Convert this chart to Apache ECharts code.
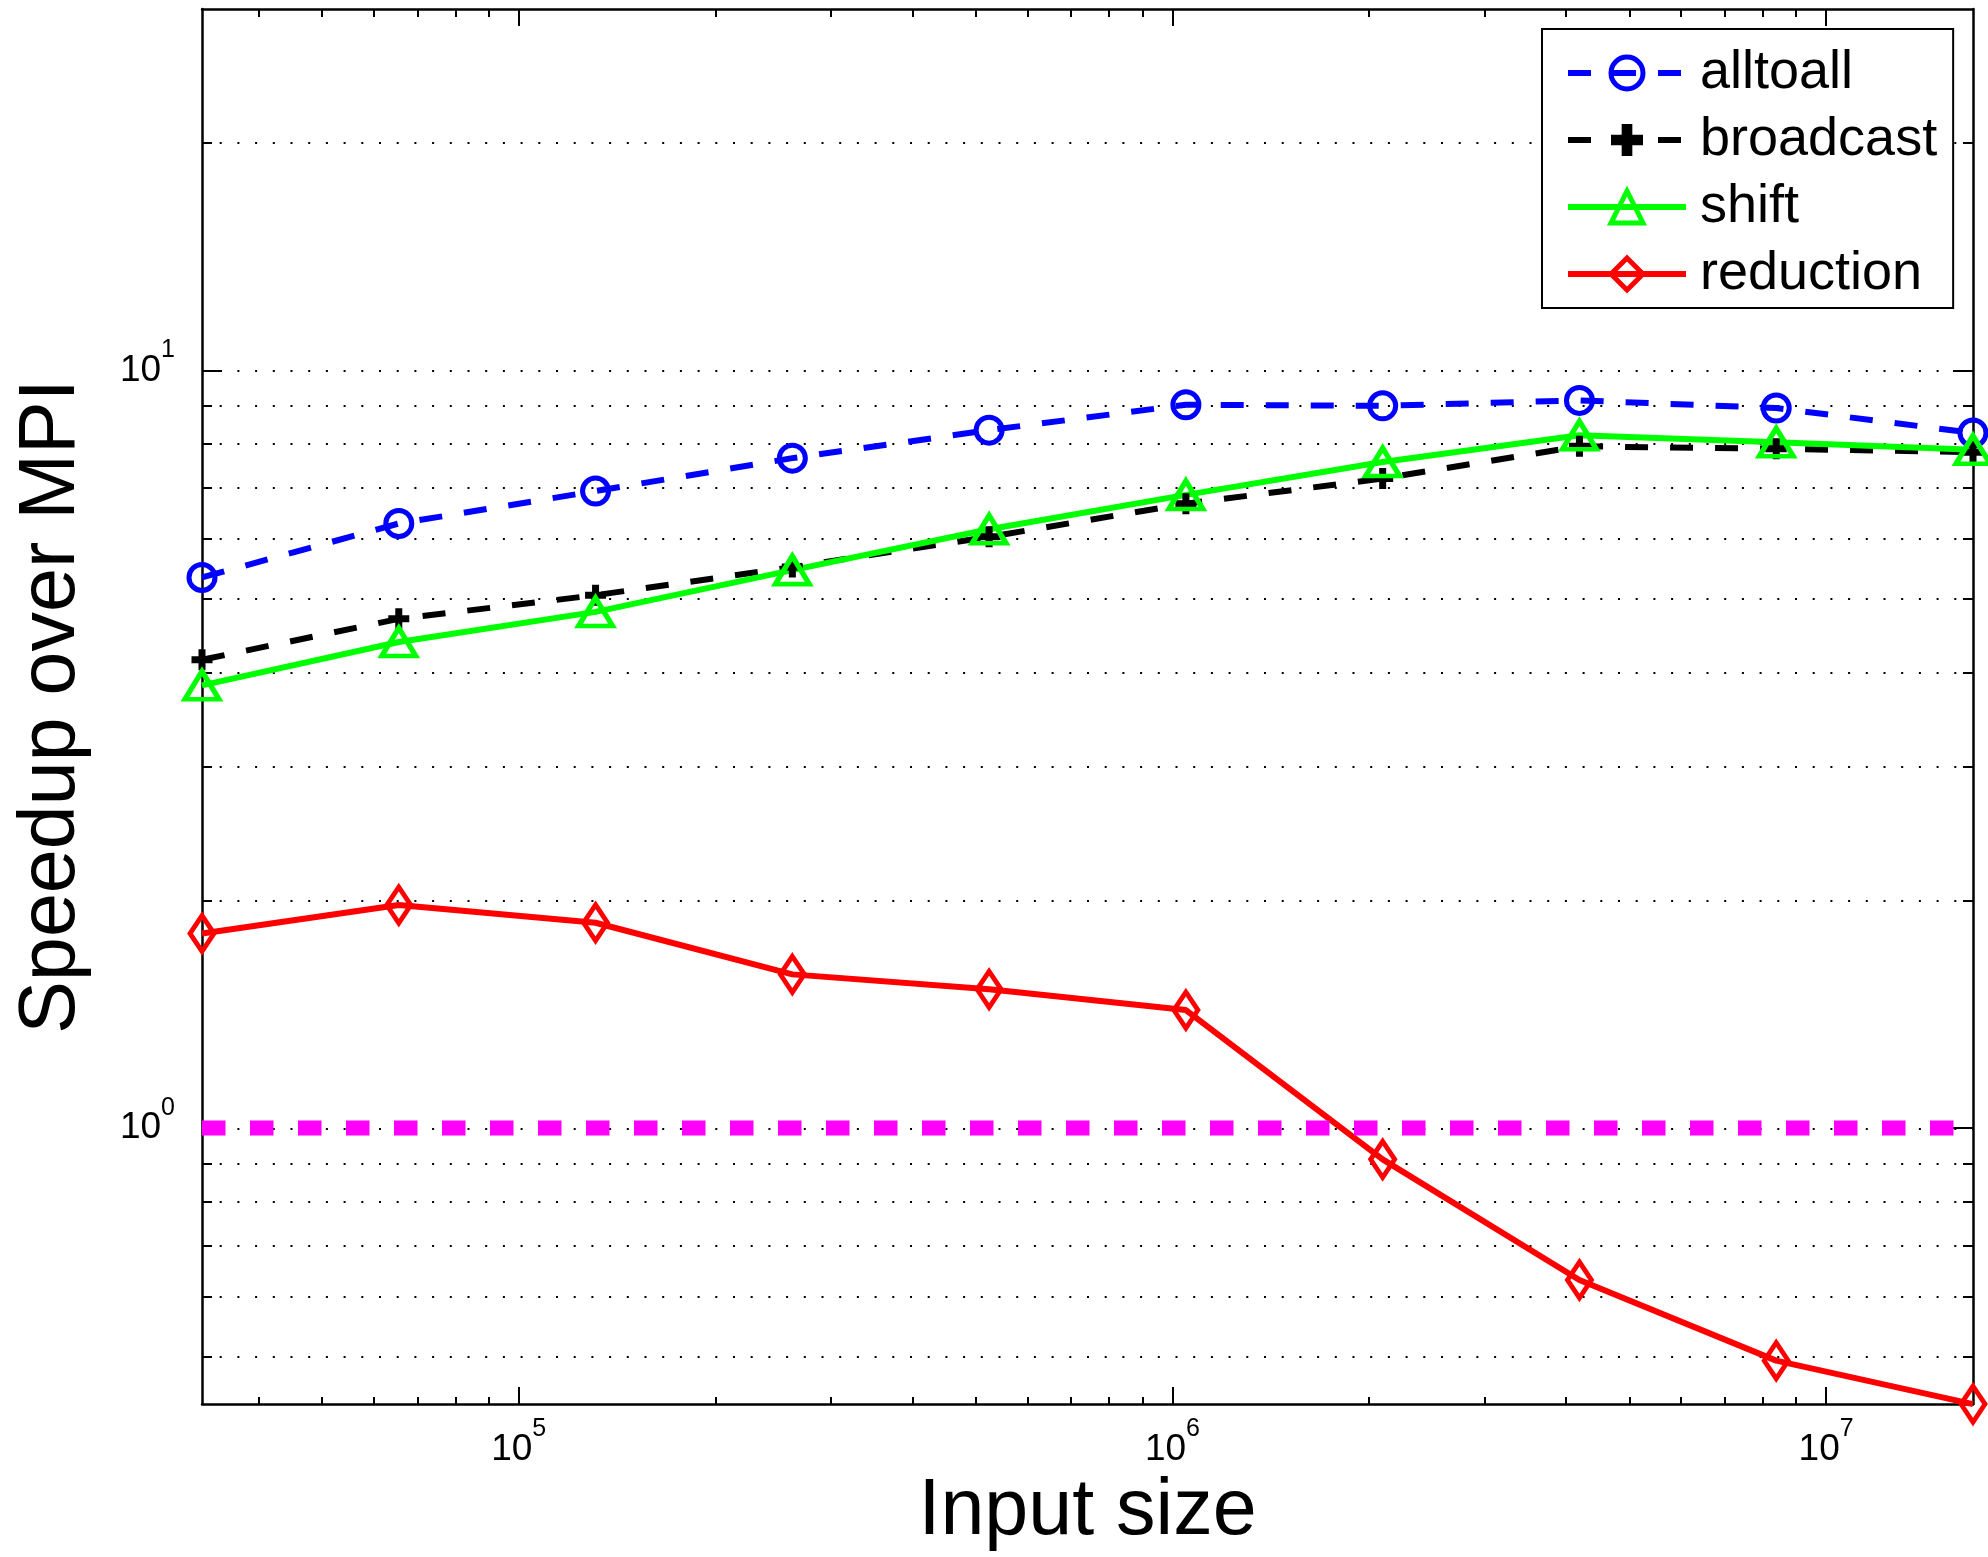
<!DOCTYPE html>
<html>
<head>
<meta charset="utf-8">
<title>Speedup over MPI</title>
<script src="https://cdn.jsdelivr.net/npm/echarts@6/dist/echarts.min.js"></script>
<style>
    html, body { margin: 0; padding: 0; background: #fff; }
    #chart { width: 1988px; height: 1557px; }
</style>
</head>
<body>
<div id="chart"></div>
<script>
    // data (log-log)
    const inputSizes = [32768, 65536, 131072, 262144, 524288, 1048576, 2097152, 4194304, 8388608, 16777216];
    const alltoall  = [5.33, 6.28, 6.93, 7.66, 8.34, 9.01, 8.98, 9.13, 8.92, 8.27];
    const broadcast = [4.15, 4.70, 5.05, 5.50, 6.03, 6.67, 7.20, 7.94, 7.88, 7.80];
    const shift     = [3.84, 4.38, 4.80, 5.45, 6.17, 6.85, 7.57, 8.21, 8.04, 7.86];
    const reduction = [1.806, 1.969, 1.866, 1.595, 1.524, 1.431, 0.909, 0.630, 0.493, 0.432];
    const baseline  = [1, 1]; // speedup = 1 line, first to last input size

    const xMajorTicks = [1e5, 1e6, 1e7];
    const xMinorTicks = [4e4, 5e4, 6e4, 7e4, 8e4, 9e4,
        2e5, 3e5, 4e5, 5e5, 6e5, 7e5, 8e5, 9e5,
        2e6, 3e6, 4e6, 5e6, 6e6, 7e6, 8e6, 9e6];
    const yMajorTicks = [1, 10];
    const yMinorTicks = [0.5, 0.6, 0.7, 0.8, 0.9, 2, 3, 4, 5, 6, 7, 8, 9, 20];
    const yMin = 0.432, yMax = 30;

    const font = 'Liberation Sans';
    let chart = echarts.init(document.getElementById('chart'));

    function pairs(ys) {
        return ys.map(function (y, i) { return [inputSizes[i], y]; });
    }

    // 10^n tick labels, exponent raised with bottom padding
    function powLabel(ticks, margin) {
        return {
            show: true, customValues: ticks, margin: margin,
            fontSize: 37, fontFamily: font, color: '#000',
            formatter: function (v) {
                return '{b|10}{s|' + Math.round(Math.log10(v)) + '}';
            },
            rich: {
                b: {fontSize: 37, fontFamily: font, color: '#000'},
                s: {fontSize: 25, fontFamily: font, color: '#000', padding: [0, 0, 40, 0]}
            }
        };
    }

    function axis(grid, pos, min, max, ticks, len, lineShow, extra) {
        let a = {
            gridIndex: grid,
            type: 'log',
            logBase: 10,
            position: pos,
            min: min,
            max: max,
            axisLine: {show: lineShow, onZero: false, lineStyle: {color: '#000', width: 2.5}},
            axisTick: {show: true, inside: true, length: len, customValues: ticks, lineStyle: {color: '#000', width: 2}},
            axisLabel: {show: false},
            splitLine: {show: false},
            minorTick: {show: false},
            minorSplitLine: {show: false}
        };
        return Object.assign(a, extra || {});
    }

    let gridRect = {left: 202, right: 15, top: 9, bottom: 152};
    let x0 = inputSizes[0], x1 = inputSizes[inputSizes.length - 1];

    function legendItem(name, border) {
        return {name: name, itemStyle: {borderWidth: border}, lineStyle: {width: 6}};
    }

    let option = {
        animation: false,
        backgroundColor: '#fff',
        grid: [Object.assign({}, gridRect), Object.assign({}, gridRect)],
        legend: {
            data: [legendItem('alltoall', 5), legendItem('broadcast', 0), legendItem('shift', 5), legendItem('reduction', 5)],
            orient: 'vertical',
            left: 1542,
            top: 29,
            padding: [17, 16, 7, 23],
            itemWidth: 118,
            itemHeight: 40,
            itemGap: 13,
            backgroundColor: '#fff',
            borderColor: '#000',
            borderWidth: 2,
            borderRadius: 0,
            textStyle: {fontSize: 54, fontFamily: font, color: '#000', padding: [0, 0, 0, 9]}
        },
        xAxis: [
            axis(0, 'bottom', x0, x1, xMajorTicks, 17, true, {
                axisLabel: powLabel(xMajorTicks, 13),
                name: 'Input size',
                nameLocation: 'middle',
                nameGap: 66,
                nameTextStyle: {fontSize: 79, fontFamily: font, color: '#000'}
            }),
            axis(0, 'top', x0, x1, xMajorTicks, 17, true),
            axis(1, 'bottom', x0, x1, xMinorTicks, 8, false),
            axis(1, 'top', x0, x1, xMinorTicks, 8, false)
        ],
        yAxis: [
            axis(0, 'left', yMin, yMax, yMajorTicks, 20, true, {
                axisLabel: powLabel(yMajorTicks, 27),
                name: 'Speedup over MPI',
                nameLocation: 'middle',
                nameRotate: 90,
                nameGap: 110,
                nameTextStyle: {fontSize: 79, fontFamily: font, color: '#000'}
            }),
            axis(0, 'right', yMin, yMax, yMajorTicks, 20, true),
            axis(1, 'left', yMin, yMax, yMinorTicks.concat(yMajorTicks), 10, false, {
                splitLine: {show: true, lineStyle: {color: '#000', width: 2, type: [2, 15.7]}}
            }),
            axis(1, 'right', yMin, yMax, yMinorTicks, 10, false)
        ],
        series: [
            {
                name: 'alltoall',
                type: 'line',
                data: pairs(alltoall),
                clip: false,
                symbol: 'circle',
                symbolSize: 26,
                itemStyle: {color: 'transparent', borderColor: '#0000ff', borderWidth: 5},
                lineStyle: {color: '#0000ff', width: 6, type: [23, 22]}
            },
            {
                name: 'broadcast',
                type: 'line',
                data: pairs(broadcast),
                clip: false,
                symbol: 'path://M-1,-3L1,-3L1,-1L3,-1L3,1L1,1L1,3L-1,3L-1,1L-3,1L-3,-1L-1,-1Z',
                symbolSize: 21,
                itemStyle: {color: '#000', borderWidth: 0},
                lineStyle: {color: '#000', width: 6, type: [23, 22]}
            },
            {
                name: 'shift',
                type: 'line',
                data: pairs(shift),
                clip: false,
                symbol: 'triangle',
                symbolSize: [34, 28],
                itemStyle: {color: 'transparent', borderColor: '#00ff00', borderWidth: 5},
                lineStyle: {color: '#00ff00', width: 6}
            },
            {
                name: 'reduction',
                type: 'line',
                data: pairs(reduction),
                clip: false,
                symbol: 'diamond',
                symbolSize: [24, 36],
                itemStyle: {color: 'transparent', borderColor: '#ff0000', borderWidth: 5},
                lineStyle: {color: '#ff0000', width: 6}
            },
            {
                name: 'one',
                type: 'line',
                data: [[x0, baseline[0]], [x1, baseline[1]]],
                clip: false,
                symbol: 'none',
                lineStyle: {color: '#ff00ff', width: 15, type: [23.5, 24.5], cap: 'butt'}
            }
        ]
    };

    chart.setOption(option);
</script>
</body>
</html>
